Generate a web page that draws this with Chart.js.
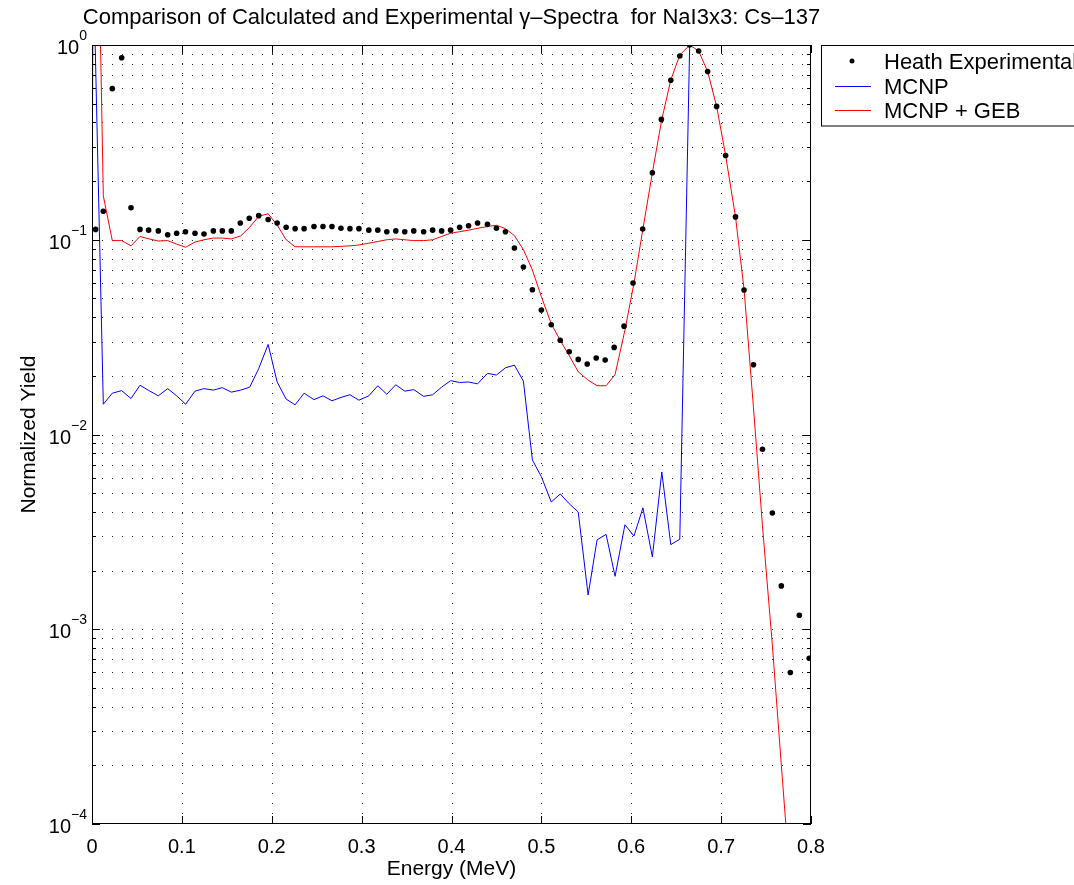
<!DOCTYPE html>
<html>
<head>
<meta charset="utf-8">
<script src="https://cdn.jsdelivr.net/npm/chart.js@4"></script>
<style>
  html, body { margin: 0; padding: 0; background: #fff; }
  canvas { display: block; }
</style>
</head>
<body>
<canvas id="spectrumChart" width="1074" height="885"></canvas>
<script>
// Heath experimental points (energy in MeV, normalized yield)
var heathEnergy = [0.004, 0.0126, 0.0226, 0.033, 0.0434, 0.0534, 0.063, 0.0738, 0.0842, 0.0942,
  0.104, 0.1146, 0.1246, 0.135, 0.145, 0.155, 0.165, 0.175, 0.1855, 0.196,
  0.206, 0.216, 0.226, 0.236, 0.247, 0.257, 0.267, 0.277, 0.287, 0.297,
  0.308, 0.318, 0.328, 0.338, 0.348, 0.358, 0.369, 0.379, 0.389, 0.399,
  0.409, 0.419, 0.429, 0.44, 0.45, 0.46, 0.47, 0.48, 0.49, 0.5,
  0.511, 0.521, 0.531, 0.541, 0.551, 0.561, 0.571, 0.581, 0.592, 0.602,
  0.6127, 0.6235, 0.6335, 0.644, 0.654, 0.665, 0.675, 0.685, 0.695, 0.705,
  0.716, 0.7255, 0.736, 0.746, 0.757, 0.767, 0.777, 0.787, 0.798];
var heathYield = [0.113, 0.14, 0.597, 0.86, 0.146, 0.113, 0.112, 0.111, 0.106, 0.108,
  0.110, 0.108, 0.107, 0.111, 0.111, 0.111, 0.122, 0.129, 0.133, 0.127,
  0.122, 0.116, 0.114, 0.114, 0.117, 0.117, 0.117, 0.1145, 0.114, 0.114,
  0.112, 0.112, 0.110, 0.111, 0.110, 0.111, 0.110, 0.112, 0.111, 0.112,
  0.116, 0.118, 0.122, 0.120, 0.1145, 0.110, 0.0907, 0.0725, 0.0554, 0.0436,
  0.0366, 0.0305, 0.0266, 0.0243, 0.023, 0.0247, 0.0241, 0.028, 0.036, 0.06,
  0.1136, 0.221, 0.415, 0.659, 0.878, 1.0, 0.931, 0.73, 0.484, 0.271,
  0.131, 0.0552, 0.0228, 0.0084, 0.00395, 0.00167, 0.0006, 0.00118, 0.00071];

// MCNP tally bins
var binEnergy = [0, 0.0024, 0.0126, 0.0226, 0.033, 0.0434, 0.0534, 0.0634, 0.0738, 0.0842,
  0.0942, 0.1042, 0.1146, 0.1246, 0.135, 0.145, 0.155, 0.1655, 0.1755, 0.1855,
  0.196, 0.206, 0.216, 0.226, 0.236, 0.247, 0.257, 0.267, 0.277, 0.287,
  0.297, 0.308, 0.318, 0.328, 0.338, 0.348, 0.358, 0.369, 0.379, 0.389,
  0.399, 0.409, 0.419, 0.429, 0.44, 0.45, 0.46, 0.47, 0.48, 0.49,
  0.5, 0.511, 0.521, 0.531, 0.541, 0.552, 0.562, 0.572, 0.582, 0.593,
  0.603, 0.613, 0.6235, 0.634, 0.644, 0.654, 0.665, 0.675, 0.685, 0.695,
  0.705, 0.716, 0.7256, 0.736, 0.746, 0.757, 0.767, 0.777];
var mcnpYield = [null, 1.7, 0.0143, 0.0163, 0.0168, 0.0153, 0.0179, 0.0168, 0.0158, 0.0172,
  0.0158, 0.0143, 0.0167, 0.0172, 0.0169, 0.0174, 0.0165, 0.0169, 0.0175, 0.0218,
  0.029, 0.0186, 0.0152, 0.0142, 0.0163, 0.0151, 0.0158, 0.0149, 0.0155, 0.016,
  0.015, 0.0158, 0.0178, 0.0161, 0.018, 0.0167, 0.017, 0.0157, 0.016, 0.0175,
  0.0189, 0.0185, 0.0186, 0.0182, 0.0206, 0.0202, 0.022, 0.0227, 0.0188, 0.0074,
  0.00607, 0.0045, 0.00495, 0.00441, 0.004, 0.0015, 0.00288, 0.00307, 0.00187, 0.00344,
  0.00301, 0.0042, 0.00235, 0.00642, 0.00272, 0.0029, 1.0, null, null, null,
  null, null, null, null, null, null, null, null];
var gebYield = [0.088, 60, 0.168, 0.099, 0.099, 0.093, 0.104, 0.101, 0.0985, 0.099,
  0.095, 0.0915, 0.0973, 0.1, 0.102, 0.102, 0.101, 0.1046, 0.116, 0.132,
  0.136, 0.119, 0.1, 0.092, 0.092, 0.092, 0.092, 0.092, 0.0925, 0.093,
  0.094, 0.096, 0.098, 0.1, 0.101, 0.1, 0.099, 0.099, 0.1, 0.104,
  0.108, 0.11, 0.112, 0.1145, 0.117, 0.1187, 0.114, 0.105, 0.089, 0.07,
  0.051, 0.037, 0.0304, 0.0254, 0.021, 0.019, 0.0178, 0.0178, 0.0203, 0.0344,
  0.0597, 0.1136, 0.221, 0.415, 0.661, 0.888, 1.0, 0.931, 0.73, 0.484,
  0.271, 0.131, 0.0552, 0.0137, 0.0034, 0.00083, 0.0002, 0.00005];

var xTicks = [0, 0.1, 0.2, 0.3, 0.4, 0.5, 0.6, 0.7, 0.8];
var xTickLabels = ['0', '0.1', '0.2', '0.3', '0.4', '0.5', '0.6', '0.7', '0.8'];
var yExponents = [0, -1, -2, -3, -4];
var seriesNames = ['Heath Experimental', 'MCNP', 'MCNP + GEB'];
var titleText = 'Comparison of Calculated and Experimental \u03b3\u2013Spectra  for NaI3x3: Cs\u2013137';

var FONT = "'Liberation Sans', Arial, Helvetica, sans-serif";

function toPoints(xs, ys) {
  var pts = [];
  for (var i = 0; i < xs.length; i++) {
    if (ys[i] !== null) pts.push({ x: xs[i], y: ys[i] });
  }
  return pts;
}

// MATLAB-style frame: dotted grid, boxed axes with inward ticks, labels, legend
var matlabAxes = {
  id: 'matlabAxes',
  beforeDatasetsDraw: function (chart) {
    var ctx = chart.ctx, a = chart.chartArea, xs = chart.scales.x, ys = chart.scales.y;
    ctx.save();
    ctx.strokeStyle = 'rgba(0,0,0,0.85)';
    ctx.lineWidth = 1;
    ctx.setLineDash([1, 9]);
    xTicks.forEach(function (v) {
      if (v <= 0 || v >= 0.8) return;
      var px = Math.round(xs.getPixelForValue(v)) + 0.5;
      ctx.beginPath(); ctx.moveTo(px, a.bottom); ctx.lineTo(px, a.top); ctx.stroke();
    });
    for (var e = -4; e <= -1; e++) {
      for (var k = 1; k <= 9; k++) {
        if (e === -4 && k === 1) continue;
        var py = Math.round(ys.getPixelForValue(k * Math.pow(10, e))) + 0.5;
        ctx.beginPath(); ctx.moveTo(a.left, py); ctx.lineTo(a.right, py); ctx.stroke();
      }
    }
    ctx.restore();
  },
  afterDatasetsDraw: function (chart) {
    var ctx = chart.ctx, a = chart.chartArea, xs = chart.scales.x, ys = chart.scales.y;
    ctx.save();
    ctx.setLineDash([]);
    ctx.strokeStyle = '#000';
    ctx.fillStyle = '#000';
    ctx.lineWidth = 1;

    // axes box
    ctx.strokeRect(a.left + 0.5, a.top + 0.5, a.right - a.left - 1, a.bottom - a.top - 1);

    // x ticks (bottom + top), inward
    xTicks.forEach(function (v, i) {
      var px = Math.round(xs.getPixelForValue(v)) + 0.5;
      ctx.beginPath();
      ctx.moveTo(px, a.bottom); ctx.lineTo(px, a.bottom - 8);
      ctx.moveTo(px, a.top); ctx.lineTo(px, a.top + 8);
      ctx.stroke();
      ctx.font = '20px ' + FONT;
      ctx.textAlign = 'center';
      ctx.textBaseline = 'alphabetic';
      ctx.fillText(xTickLabels[i], xs.getPixelForValue(v), a.bottom + 29);
    });

    // y ticks, major and minor, left + right
    for (var e = -4; e <= 0; e++) {
      for (var k = 1; k <= 9; k++) {
        if (e === 0 && k > 1) break;
        var py = Math.round(ys.getPixelForValue(k * Math.pow(10, e))) + 0.5;
        var len = k === 1 ? 8 : 4;
        ctx.beginPath();
        ctx.moveTo(a.left, py); ctx.lineTo(a.left + len, py);
        ctx.moveTo(a.right, py); ctx.lineTo(a.right - len, py);
        ctx.stroke();
      }
    }

    // y tick labels as 10^n
    yExponents.forEach(function (ex) {
      var py = ys.getPixelForValue(Math.pow(10, ex));
      var sup = ex === 0 ? '0' : '\u2212' + Math.abs(ex);
      ctx.font = '14px ' + FONT;
      var wSup = ctx.measureText(sup).width;
      ctx.font = '20px ' + FONT;
      var wBase = ctx.measureText('10').width;
      var right = a.left - 5;
      ctx.textAlign = 'left';
      ctx.textBaseline = 'alphabetic';
      ctx.fillText('10', right - wSup - wBase, py + 9);
      ctx.font = '14px ' + FONT;
      ctx.fillText(sup, right - wSup, py - 5);
    });

    // axis labels and title
    ctx.font = '21px ' + FONT;
    ctx.textAlign = 'center';
    ctx.fillText('Energy (MeV)', (a.left + a.right) / 2, a.bottom + 51);
    ctx.save();
    ctx.translate(35, (a.top + a.bottom) / 2);
    ctx.rotate(-Math.PI / 2);
    ctx.fillText('Normalized Yield', 0, 0);
    ctx.restore();
    ctx.font = '22px ' + FONT;
    ctx.fillText(titleText, (a.left + a.right) / 2, 24);

    // legend box
    ctx.fillStyle = '#fff';
    ctx.fillRect(822, 46, 260, 80);
    ctx.strokeStyle = '#000';
    ctx.strokeRect(821.5, 45.5, 300, 80.5);
    ctx.fillStyle = '#000';
    ctx.beginPath();
    ctx.arc(852, 61, 2.5, 0, Math.PI * 2);
    ctx.fill();
    ctx.lineWidth = 1;
    ctx.strokeStyle = '#0000ff';
    ctx.beginPath(); ctx.moveTo(835, 86.5); ctx.lineTo(871, 86.5); ctx.stroke();
    ctx.strokeStyle = '#ff0000';
    ctx.beginPath(); ctx.moveTo(835, 110.5); ctx.lineTo(871, 110.5); ctx.stroke();
    ctx.font = '22px ' + FONT;
    ctx.textAlign = 'left';
    ctx.fillText(seriesNames[0], 884, 69);
    ctx.fillText(seriesNames[1], 884, 94);
    ctx.fillText(seriesNames[2], 884, 118);
    ctx.restore();
  }
};

document.addEventListener('DOMContentLoaded', function () {
  var ctx = document.getElementById('spectrumChart').getContext('2d');
  new Chart(ctx, {
    type: 'scatter',
    data: {
      datasets: [
        {
          label: seriesNames[0],
          data: toPoints(heathEnergy, heathYield),
          backgroundColor: '#000',
          borderColor: '#000',
          pointRadius: 2.8,
          pointBorderWidth: 0,
          showLine: false
        },
        {
          label: seriesNames[1],
          data: toPoints(binEnergy, mcnpYield),
          borderColor: '#0000ff',
          borderWidth: 1,
          pointRadius: 0,
          showLine: true
        },
        {
          label: seriesNames[2],
          data: toPoints(binEnergy, gebYield),
          borderColor: '#ff0000',
          borderWidth: 1,
          pointRadius: 0,
          showLine: true
        }
      ]
    },
    options: {
      responsive: false,
      animation: false,
      devicePixelRatio: 1,
      layout: { padding: { left: 92, top: 45, right: 263, bottom: 61 } },
      scales: {
        x: { type: 'linear', min: 0, max: 0.8, display: false },
        y: { type: 'logarithmic', min: 1e-4, max: 1, display: false }
      },
      plugins: {
        legend: { display: false },
        tooltip: { enabled: false }
      }
    },
    plugins: [matlabAxes]
  });
});
</script>
</body>
</html>
